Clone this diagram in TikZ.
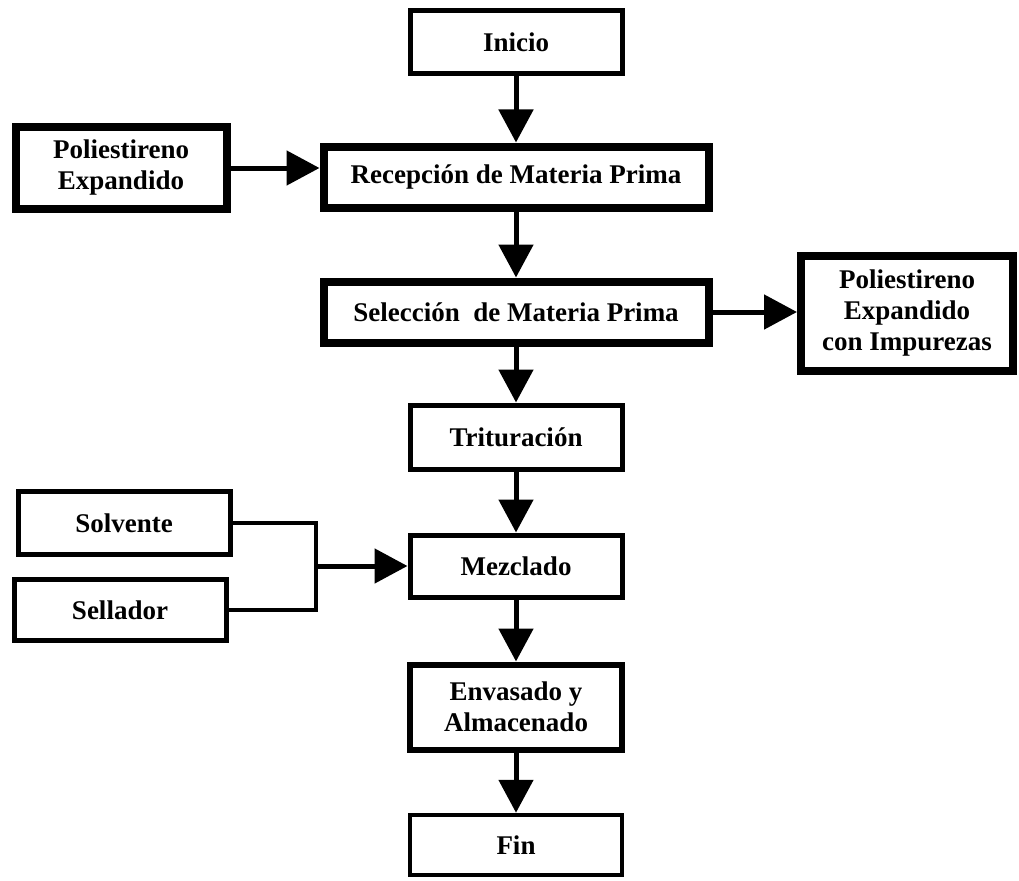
\documentclass[tikz,border=0pt]{standalone}
\usepackage{fontspec}
\setmainfont{Liberation Serif}
\usepackage{tikz}
\usetikzlibrary{arrows.meta, positioning}

\begin{document}
\begin{tikzpicture}[x=1pt, y=-1pt, node distance=135pt]
    \useasboundingbox (0,0) rectangle (1019,880);
    % Define styles
    \tikzstyle{block} = [rectangle, draw, line width=5pt, align=center, inner sep=0pt, font=\fontsize{27}{31}\selectfont\bfseries, minimum width=212pt, minimum height=63pt]
    \tikzstyle{heavy} = [block, line width=8pt]
    \tikzstyle{wide} = [heavy, minimum width=385pt, minimum height=61pt]
    \tikzstyle{arrow} = [line width=5pt, -{Triangle[length=33pt, width=34pt]}]
    \tikzstyle{line} = [line width=4.5pt]

    % Nodes
    \node[block] (inicio) at (516,42) {Inicio};
    \node[wide, below of=inicio] (recep) {Recepción de Materia Prima};
    \node[wide, below of=recep] (selec) {Selección~ de Materia Prima};
    \node[block, below of=selec, yshift=10pt, minimum height=64pt] (tritur) {Trituración};
    \node[block, below of=tritur, yshift=6pt, minimum height=62pt] (mezcl) {Mezclado};
    \node[block, below of=mezcl, yshift=-6pt, line width=6pt, minimum height=85pt] (envas) {Envasado y\\Almacenado};
    \node[block, below of=envas, yshift=-3pt, line width=4.5pt, minimum height=60pt] (fin) {Fin};
    \node[heavy, left of=recep, xshift=-260pt, yshift=9pt, minimum width=211pt, minimum height=82pt] (polexp) {Poliestireno\\Expandido};
    \node[heavy, right of=selec, xshift=256pt, yshift=-1pt, minimum height=115pt] (impur) {Poliestireno\\Expandido\\con Impurezas};
    \node[block, left of=mezcl, xshift=-257pt, yshift=43pt] (solv) {Solvente};
    \node[block, below of=solv, xshift=-4pt, yshift=48pt, minimum height=61pt] (sella) {Sellador};
    \coordinate[left of=mezcl, xshift=-65pt] (merge);

    % Arrows
    \draw[arrow] (inicio) -- (recep);
    \draw[arrow] (recep) -- (selec);
    \draw[arrow] (selec) -- (tritur);
    \draw[arrow] (tritur) -- (mezcl);
    \draw[arrow] (mezcl) -- (envas);
    \draw[arrow] (envas) -- (fin);
    \draw[arrow] (polexp) -- (polexp -| recep.west);
    \draw[arrow] (selec) -- (selec -| impur.west);
    \draw[line] (solv.east) -| (merge);
    \draw[line] (sella.east) -| (merge);
    \draw[arrow] (merge) -- (mezcl);
\end{tikzpicture}
\end{document}
